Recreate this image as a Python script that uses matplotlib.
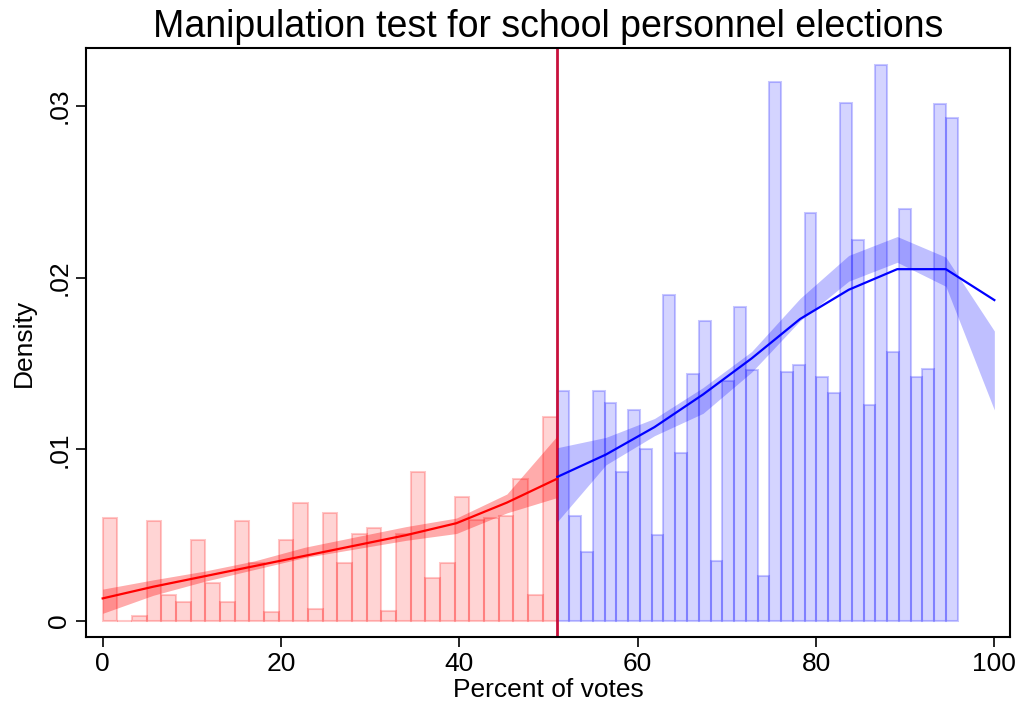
import numpy as np
import matplotlib.pyplot as plt

plt.rcParams['font.family'] = ['Liberation Sans', 'DejaVu Sans']

cutoff = 51

# histogram heights (density), left and right of the cutoff
left_hist = [0.0060, 0.0, 0.0003, 0.0058, 0.0015, 0.0011, 0.0047, 0.0022,
             0.0011, 0.0058, 0.0034, 0.0005, 0.0047, 0.0069, 0.0007, 0.0063,
             0.0034, 0.0051, 0.0054, 0.0006, 0.0051, 0.0087, 0.0025, 0.0034,
             0.0072, 0.0059, 0.0060, 0.0061, 0.0083, 0.0015, 0.0119]
right_hist = [0.0134, 0.0061, 0.0040, 0.0134, 0.0127, 0.0087, 0.0123, 0.0100,
              0.0050, 0.0190, 0.0098, 0.0144, 0.0175, 0.0035, 0.0140, 0.0183,
              0.0146, 0.0026, 0.0314, 0.0145, 0.0149, 0.0238, 0.0142, 0.0133,
              0.0302, 0.0222, 0.0126, 0.0324, 0.0157, 0.0240, 0.0142, 0.0147,
              0.0301, 0.0293]
left_range = (0, 51)
right_range = (51, 95.9)

# density estimate with confidence band
left_x = [0, 5.67, 11.33, 17, 22.67, 28.33, 34, 39.67, 45.33, 51]
left_f = [0.00132, 0.0020, 0.0026, 0.0032, 0.0038, 0.0044, 0.0050, 0.0057, 0.0069, 0.0083]
left_lo = [0.00045, 0.0015, 0.0023, 0.0030, 0.0037, 0.0042, 0.0047, 0.0051, 0.0063, 0.0072]
left_hi = [0.00186, 0.0024, 0.0029, 0.0035, 0.0043, 0.0049, 0.0055, 0.0060, 0.0074, 0.0108]

right_x = [51, 56.44, 61.89, 67.33, 72.78, 78.22, 83.67, 89.11, 94.56, 100]
right_f = [0.0084, 0.0097, 0.0113, 0.0132, 0.0153, 0.0176, 0.0193, 0.0205, 0.0205, 0.0187]
right_lo = [0.0058, 0.0091, 0.0108, 0.0121, 0.0145, 0.0175, 0.0198, 0.0209, 0.0195, 0.0123]
right_hi = [0.0101, 0.0107, 0.0118, 0.0136, 0.0157, 0.0188, 0.0213, 0.0224, 0.0212, 0.0169]

fig = plt.figure(figsize=(10.19, 7.07), dpi=100)
ax = fig.add_axes([0.0844, 0.099, 0.9068, 0.833])

# histograms
le = np.linspace(left_range[0], left_range[1], len(left_hist) + 1)
re = np.linspace(right_range[0], right_range[1], len(right_hist) + 1)
ax.bar(le[:-1], left_hist, width=np.diff(le), align='edge',
       facecolor=(1, 0, 0, 0.17), edgecolor=(1, 0, 0, 0.22), linewidth=1.5, zorder=1)
ax.bar(re[:-1], right_hist, width=np.diff(re), align='edge',
       facecolor=(0, 0, 1, 0.17), edgecolor=(0, 0, 1, 0.22), linewidth=1.5, zorder=1)

ax.axvline(cutoff, color='#C8103C', linewidth=2, zorder=2)

# confidence bands
ax.fill_between(left_x, left_lo, left_hi, color='red', alpha=0.33, linewidth=0, zorder=3)
ax.fill_between(right_x, right_lo, right_hi, color='blue', alpha=0.25, linewidth=0, zorder=3)

ax.plot(left_x, left_f, color='red', linewidth=1.6, zorder=4)
ax.plot(right_x, right_f, color='blue', linewidth=1.6, zorder=4)

ax.set_xlim(-1.87, 101.76)
ax.set_ylim(-0.00093, 0.03338)
ax.set_xticks([0, 20, 40, 60, 80, 100])
ax.set_yticks([0, 0.01, 0.02, 0.03])
ax.set_yticklabels(['0', '.01', '.02', '.03'], rotation=90, va='center')
ax.tick_params(axis='both', labelsize=19, length=7, width=1.2, color='black')
for s in ax.spines.values():
    s.set_linewidth(1.5)

ax.set_xlabel('Percent of votes', fontsize=19, labelpad=2)
ax.set_ylabel('Density', fontsize=19, labelpad=8)
ax.set_title('Manipulation test for school personnel elections', fontsize=27, pad=8)

fig.savefig('out.png', dpi=100)
